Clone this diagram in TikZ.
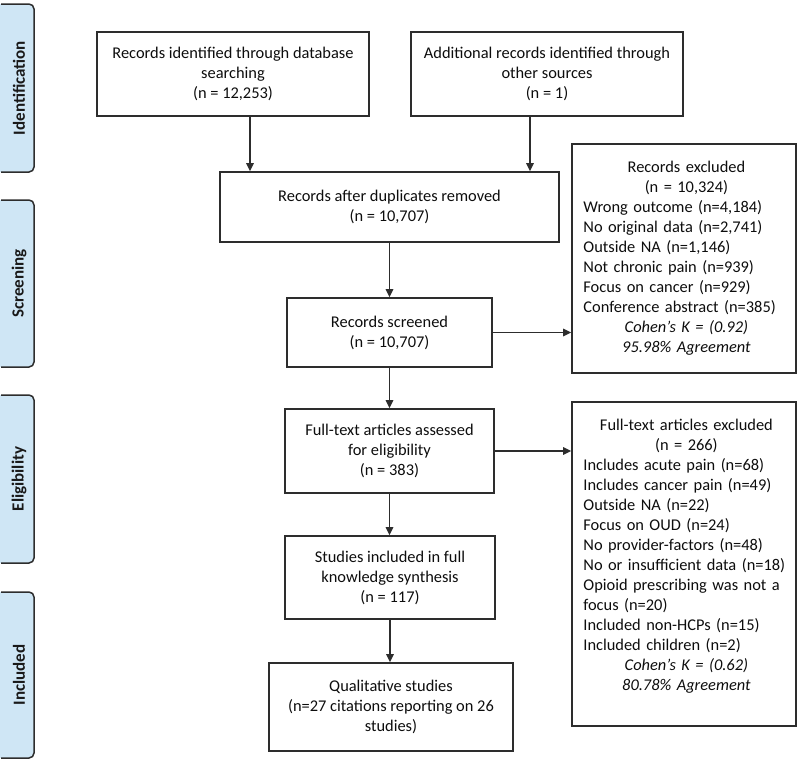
\documentclass[tikz,border=0pt]{standalone}
\usepackage{fontspec}
\setmainfont{Carlito}
\usetikzlibrary{arrows.meta}
\definecolor{labfill}{RGB}{207,230,245}
\definecolor{linec}{RGB}{45,45,45}
\begin{document}
\begin{tikzpicture}[x=1pt,y=-1pt,
  every node/.style={font=\fontsize{16.4}{20}\selectfont, text=black!95},
  box/.style={draw=linec, line width=1.6pt, align=center, inner sep=0pt},
  listbox/.style={draw=linec, line width=1.6pt, inner sep=0pt, minimum width=224pt},
  listtext/.style={text width=206pt, inner sep=0pt, anchor=north west},
  arr/.style={draw=linec, line width=1.6pt, -{Triangle[length=8pt,width=7.5pt]}},
  sidelab/.style={font=\fontsize{17}{20}\selectfont\bfseries, text=black!90, rotate=90},
  labfillst/.style={fill=labfill, rounded corners=5pt},
  labline/.style={draw=linec, line width=1.5pt, rounded corners=5pt}
]
\useasboundingbox (0,0) rectangle (800,761);

% side labels
\foreach \t/\b in {4/172, 200/367, 395/563, 592/758}{
  \fill[labfillst] (-10,\t) rectangle (34,\b);
  \draw[labline] (1,\t) -- (34,\t) -- (34,\b) -- (1,\b);
}
\node[sidelab] (lid) at (19,88) {Identification};
\node[sidelab] (lsc) at (19,283.5) {Screening};
\node[sidelab] (lel) at (19,479) {Eligibility};
\node[sidelab] (lin) at (19,675) {Included};

% main boxes
\node[box, minimum width=272pt, minimum height=84pt] (b1) at (233,74)
  {Records identified through database\\searching\\(n = 12,253)};
\node[box, minimum width=272pt, minimum height=84pt] (b2) at (547,74)
  {Additional records identified through\\other sources\\(n = 1)};
\node[box, minimum width=339pt, minimum height=70pt] (b3) at (389.5,207)
  {Records after duplicates removed\\(n = 10,707)};
\node[box, minimum width=205pt, minimum height=69pt] (b4) at (389.5,332.5)
  {Records screened\\(n = 10,707)};
\node[box, minimum width=209pt, minimum height=84pt] (b5) at (389.5,451)
  {Full-text articles assessed\\for eligibility\\(n = 383)};
\node[box, minimum width=210pt, minimum height=83pt] (b6) at (390,577.5)
  {Studies included in full\\knowledge synthesis\\(n = 117)};
\node[box, minimum width=244pt, minimum height=88pt] (b7) at (391,707)
  {Qualitative studies\\(n=27 citations reporting on 26\\studies)};

% exclusion boxes
\node[listbox, minimum height=229pt] (e1) at (684,258.5) {};
\node[listtext] (t1) at ([xshift=12pt]e1.north west) {\parindent=0pt
  {\centering\rule{0pt}{29pt}Records excluded\\(n = 10,324)\par}
  {\raggedright Wrong outcome (n=4,184)\\No original data (n=2,741)\\Outside NA (n=1,146)\\Not chronic pain (n=939)\\Focus on cancer (n=929)\\Conference abstract (n=385)\par}
  {\centering\itshape Cohen's K = (0.92)\\95.98\% Agreement\par}};

\node[listbox, minimum height=324pt] (e2) at (684,564) {};
\node[listtext] (t2) at ([xshift=12pt]e2.north west) {\parindent=0pt
  {\centering\rule{0pt}{29pt}Full-text articles excluded\\(n = 266)\par}
  {\raggedright Includes acute pain (n=68)\\Includes cancer pain (n=49)\\Outside NA (n=22)\\Focus on OUD (n=24)\\No provider-factors (n=48)\\No or insufficient data (n=18)\\Opioid prescribing was not a\\focus (n=20)\\Included non-HCPs (n=15)\\Included children (n=2)\par}
  {\centering\itshape Cohen's K = (0.62)\\80.78\% Agreement\par}};

% connectors
\draw[arr] ([xshift=17pt]b1.south) -- ([xshift=17pt]b1.south |- b3.north);
\draw[arr] ([xshift=-17pt]b2.south) -- ([xshift=-17pt]b2.south |- b3.north);
\draw[arr] (b3.south) -- (b3.south |- b4.north);
\draw[arr] (b4.south) -- (b4.south |- b5.north);
\draw[arr] (b5.south) -- (b5.south |- b6.north);
\draw[arr] (b6.south) -- (b6.south |- b7.north);
\draw[arr] (b4.east) -- (b4.east -| e1.west);
\draw[arr] (b5.east) -- (b5.east -| e2.west);
\end{tikzpicture}
\end{document}
